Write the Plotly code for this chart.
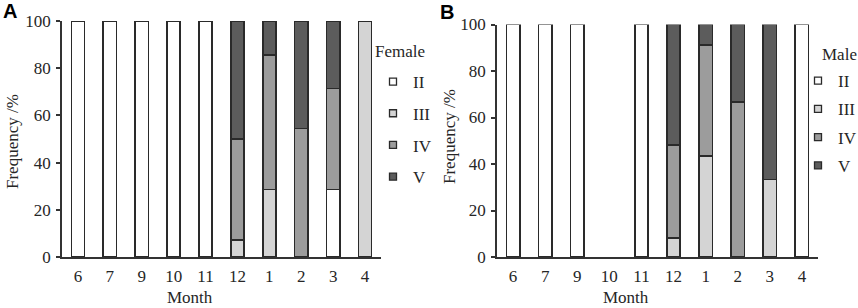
import plotly.graph_objects as go

months = ["6", "7", "9", "10", "11", "12", "1", "2", "3", "4"]
stages = ["II", "III", "IV", "V"]

female_II = [100, 100, 100, 100, 100, None, None, None, 28.6, None]
female_III = [None, None, None, None, None, 7.1, 28.6, None, None, 100]
female_IV = [None, None, None, None, None, 42.9, 57.1, 54.5, 42.8, None]
female_V = [None, None, None, None, None, 50.0, 14.3, 45.5, 28.6, None]

male_II = [100, 100, 100, None, 100, None, None, None, None, 100]
male_III = [None, None, None, None, None, 8.3, 43.5, None, 33.3, None]
male_IV = [None, None, None, None, None, 40.0, 47.8, 66.7, None, None]
male_V = [None, None, None, None, None, 51.7, 8.7, 33.3, 66.7, None]

y_ticks = [0, 20, 40, 60, 80, 100]
colors = ["#ffffff", "#d4d4d4", "#9c9c9c", "#5c5c5c"]
edge = "#2a2a2a"
FONT = "Liberation Serif"
TXT = "#262626"

female = [female_II, female_III, female_IV, female_V]
male = [male_II, male_III, male_IV, male_V]

fig = go.Figure()

for i, s in enumerate(stages):
    fig.add_trace(go.Bar(x=months, y=female[i], name=s, marker=dict(color=colors[i], line=dict(color=edge, width=1.6)),
                         xaxis="x", yaxis="y", showlegend=False))
    fig.add_trace(go.Bar(x=months, y=male[i], name=s, marker=dict(color=colors[i], line=dict(color=edge, width=1.6)),
                         xaxis="x2", yaxis="y2", showlegend=False))

# legend entries
for i, s in enumerate(stages):
    fig.add_trace(go.Scatter(x=[None], y=[None], mode="markers", name=s, legend="legend", legendgroup="f" + s,
                             marker=dict(symbol="square", size=7, color=colors[i], line=dict(color=edge, width=1.3)),
                             xaxis="x", yaxis="y"))
    fig.add_trace(go.Scatter(x=[None], y=[None], mode="markers", name=s, legend="legend2", legendgroup="m" + s,
                             marker=dict(symbol="square", size=7, color=colors[i], line=dict(color=edge, width=1.3)),
                             xaxis="x2", yaxis="y2"))

W, H = 858, 308

def px(x):
    return x / W

def py(y):
    return (H - y) / H

axis_common = dict(showgrid=False, zeroline=False, showline=True, linecolor="#333333", linewidth=1.5,
                   tickfont=dict(family=FONT, size=17, color=TXT), automargin=False)

def ann(text, x, y, **kw):
    d = dict(text=text, x=px(x), y=py(y), xref="paper", yref="paper", xanchor="center", yanchor="middle",
             showarrow=False, font=dict(family=FONT, size=17, color=TXT))
    d.update(kw)
    return d

fig.update_layout(
    width=W, height=H,
    margin=dict(l=0, r=0, t=0, b=0, autoexpand=False),
    paper_bgcolor="white", plot_bgcolor="white",
    font=dict(family=FONT, size=17, color=TXT),
    barmode="stack", bargap=0.585,
    showlegend=True,
    xaxis=dict(domain=[px(62), px(381)], anchor="y", type="category", range=[-0.5, 9.5], ticks="", ticklen=0,
               ticklabelstandoff=3, **axis_common),
    yaxis=dict(domain=[py(257), py(21)], anchor="x", range=[0, 100], tickvals=y_ticks, ticks="outside",
               ticklen=4, tickwidth=1.5, tickcolor="#333333", ticklabelstandoff=2, **axis_common),
    xaxis2=dict(domain=[px(497), px(818)], anchor="y2", type="category", range=[-0.5, 9.5], ticks="", ticklen=0,
                ticklabelstandoff=3, **axis_common),
    yaxis2=dict(domain=[py(257), py(24.5)], anchor="x2", range=[0, 100], tickvals=y_ticks, ticks="outside",
                ticklen=4, tickwidth=1.5, tickcolor="#333333", ticklabelstandoff=2, **axis_common),
    legend=dict(x=px(373), y=py(64), xanchor="left", yanchor="top", bgcolor="rgba(0,0,0,0)",
                font=dict(family=FONT, size=17, color=TXT), traceorder="grouped", tracegroupgap=6.6,
                itemwidth=30),
    legend2=dict(x=px(798), y=py(63), xanchor="left", yanchor="top", bgcolor="rgba(0,0,0,0)",
                 font=dict(family=FONT, size=17, color=TXT), traceorder="grouped", tracegroupgap=3.2,
                 itemwidth=30),
    annotations=[
        ann("<b>A</b>", 10, 11, font=dict(family="Liberation Sans", size=20, color="#000000")),
        ann("<b>B</b>", 447, 12, font=dict(family="Liberation Sans", size=20, color="#000000")),
        ann("Female", 400, 51),
        ann("Male", 839, 54),
        ann("Frequency /%", 12, 142, textangle=-90),
        ann("Frequency /%", 449, 137, textangle=-90),
        ann("Month", 190, 297),
        ann("Month", 626, 297),
    ],
)

fig.write_html("out.html", config={"displayModeBar": False},
               post_script="document.body.style.margin='0';")
